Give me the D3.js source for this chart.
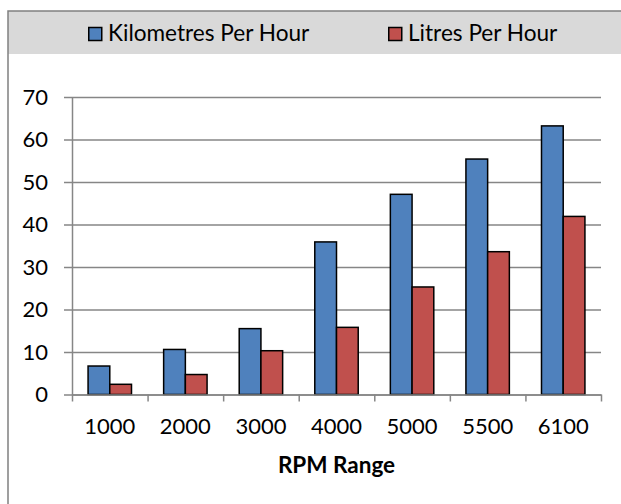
<!DOCTYPE html>
<html>
<head>
<meta charset="utf-8">
<script src="https://cdn.jsdelivr.net/npm/d3@7"></script>
<style>
  body { margin: 0; background: #fff; }
  text { font-family: Lato, "Open Sans", sans-serif; fill: #000; }
</style>
</head>
<body>
<svg></svg>
<script>
let categories = ['1000', '2000', '3000', '4000', '5000', '5500', '6100']
let kmPerHour = [6.7, 10.6, 15.5, 35.9, 47.1, 55.4, 63.2]
let litresPerHour = [2.4, 4.7, 10.3, 15.8, 25.3, 33.6, 41.9]
let seriesNames = ['Kilometres Per Hour', 'Litres Per Hour']
let seriesColors = ['#4F81BD', '#C0504D']
let yTicks = [0, 10, 20, 30, 40, 50, 60, 70]
let xTitle = 'RPM Range'

let width = 621
let height = 504
let plot = {left: 72, right: 601, top: 97, bottom: 394.5}
let gridColor = '#868686'

let svg = d3.select('svg').attr('width', width).attr('height', height)

// chart frame + legend band
svg.append('rect')
    .attr('x', 8).attr('y', 11)
    .attr('width', width).attr('height', 43)
    .attr('fill', '#D9D9D9')
svg.append('path')
    .attr('d', `M8,${height + 2}V11H${width + 2}`)
    .attr('fill', 'none')
    .attr('stroke', '#808080')
    .attr('stroke-width', 1.5)

// legend
let legendX = [88, 388]
let legend = svg.append('g')
seriesNames.forEach((name, i) => {
    let g = legend.append('g').attr('transform', `translate(${legendX[i]},0)`)
    g.append('rect')
        .attr('x', 0.75).attr('y', 27.5)
        .attr('width', 13).attr('height', 13)
        .attr('fill', seriesColors[i])
        .attr('stroke', '#000').attr('stroke-width', 1.5)
    g.append('text')
        .attr('x', 20).attr('y', 41)
        .style('font-size', '22.6px')
        .text(name)
})

// scales
let xScale = d3.scaleBand()
    .domain(categories)
    .range([plot.left, plot.right])
    .padding(0)

let seriesScale = d3.scaleBand()
    .domain(seriesNames)
    .range([0, xScale.bandwidth()])
    .paddingInner(0)
    .paddingOuter(0.74)

let yScale = d3.scaleLinear()
    .domain([0, 70])
    .range([plot.bottom, plot.top])

let boundaryScale = d3.scaleLinear()
    .domain([0, categories.length])
    .range([plot.left, plot.right])

// y axis with gridlines
let yAxis = d3.axisLeft(yScale)
    .tickValues(yTicks)
    .tickSize(-(plot.right - plot.left))
    .tickSizeOuter(0)
    .tickPadding(24)

let yG = svg.append('g')
    .attr('transform', `translate(${plot.left},0)`)
    .call(yAxis)
yG.select('.domain').attr('stroke', gridColor).attr('stroke-width', 1.5)
yG.selectAll('.tick line')
    .attr('x1', -8)
    .attr('stroke', gridColor)
    .attr('stroke-width', 1.5)
yG.selectAll('.tick text')
    .style('font-size', '22px')
    .attr('fill', '#000')

// bars
let barData = categories.map((c, i) => [
    {cat: c, series: seriesNames[0], value: kmPerHour[i]},
    {cat: c, series: seriesNames[1], value: litresPerHour[i]}
]).flat()

svg.append('g')
    .selectAll('rect')
    .data(barData)
    .enter()
    .append('rect')
    .attr('x', d => xScale(d.cat) + seriesScale(d.series))
    .attr('y', d => yScale(d.value))
    .attr('width', seriesScale.bandwidth())
    .attr('height', d => yScale(0) - yScale(d.value))
    .attr('fill', d => seriesColors[seriesNames.indexOf(d.series)])
    .attr('stroke', '#000')
    .attr('stroke-width', 1.5)

// x axis: ticks at category boundaries, labels at centres
let xTickAxis = d3.axisBottom(boundaryScale)
    .tickValues(d3.range(0, categories.length + 1))
    .tickFormat('')
    .tickSize(7)
    .tickSizeOuter(0)

let xTickG = svg.append('g')
    .attr('transform', `translate(0,${plot.bottom})`)
    .call(xTickAxis)
xTickG.select('.domain').attr('stroke', gridColor).attr('stroke-width', 1.5)
xTickG.selectAll('.tick line').attr('stroke', gridColor).attr('stroke-width', 1.5)

let xLabelAxis = d3.axisBottom(xScale).tickSize(0).tickPadding(24)
let xLabelG = svg.append('g')
    .attr('transform', `translate(0,${plot.bottom})`)
    .call(xLabelAxis)
xLabelG.select('.domain').remove()
xLabelG.selectAll('.tick text')
    .style('font-size', '22px')
    .attr('fill', '#000')

svg.append('text')
    .attr('x', (plot.left + plot.right) / 2)
    .attr('y', 473)
    .attr('text-anchor', 'middle')
    .style('font-size', '22.5px')
    .style('font-weight', 'bold')
    .text(xTitle)
</script>
</body>
</html>
